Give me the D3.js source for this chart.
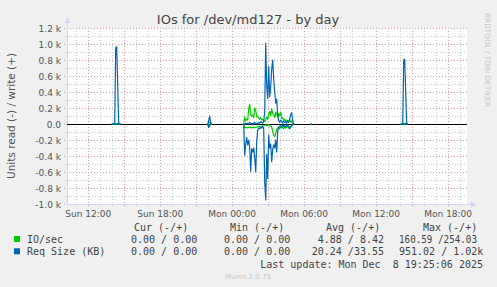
<!DOCTYPE html>
<html><head><meta charset="utf-8">
<script src="https://cdn.jsdelivr.net/npm/d3@7"></script>
<style>
html,body{margin:0;padding:0;background:#f0f0f0;}
svg{display:block;}
text{font-family:"DejaVu Sans",sans-serif;}
.mono{font-family:"DejaVu Sans Mono",monospace;font-size:10px;fill:#444;white-space:pre;}
</style></head><body>
<svg id="chart" width="497" height="287"></svg>
<script>
// ---- data (5-minute samples, each segment starts at segStarts[i]) ----
const segStarts = ["2025-12-07T13:55", "2025-12-07T21:55", "2025-12-08T00:55", "2025-12-08T06:30", "2025-12-08T14:00"];
const ioWrite = [
  [0,0,0,2,5,3,8,12,0,0],
  [0,15,20,5,0],
  [0,90,40,60,50,190,250,110,100,110,80,200,170,90,100,70,60,80,50,60,40,30,50,90,60,120,160,100,190,130,120,80,150,110,90,130,100,150,70,80,50,60,30,50,40,30,60,20,40,10,0],
  [0,0],
  [0,0,0,2,4,6,10,0]
];
const ioRead = [
  [0,0,0,0,0,0,0,0,0,0],
  [0,-25,-10,0,0],
  [0,-50,-40,-45,-50,-40,-45,-40,-50,-45,-40,-45,-40,-35,-40,-30,-35,-30,-25,-30,-20,-15,-10,-20,-15,-10,-20,-25,-40,-90,-140,-160,-120,-70,-50,-40,-60,-30,-50,-40,-60,-30,-50,-40,-30,-50,-40,-30,-20,-10,0],
  [0,0],
  [0,0,0,0,0,0,0,0]
];
const sizeWrite = [
  [0,0,0,0,955,965,480,0,0,0],
  [0,40,100,10,0],
  [0,0,10,0,10,0,20,10,0,10,0,20,10,0,10,20,10,30,20,10,30,150,1010,480,320,720,340,460,690,800,560,400,260,310,110,40,20,50,30,10,40,20,30,10,40,20,60,120,140,40,0],
  [0,0],
  [0,0,0,800,810,400,0,0]
];
const sizeRead = [
  [0,0,0,0,0,0,0,0,0,0],
  [0,-45,-20,0,0],
  [-20,-390,-250,-170,-260,-200,-300,-590,-310,-350,-300,-420,-600,-220,-80,-50,-60,-40,-50,-30,-60,-720,-950,-380,-680,-140,-300,-250,-470,-320,-260,-300,-200,-350,-90,-40,-30,-20,-40,-10,-30,-20,-40,-10,-30,-20,-60,-40,-20,-10,0],
  [0,0],
  [0,0,0,0,0,0,0,0]
];
const yTicks = [1200,1000,800,600,400,200,0,-200,-400,-600,-800,-1000];
const yTickLabels = ["1.2 k","1.0 k","0.8 k","0.6 k","0.4 k","0.2 k","0.0","-0.2 k","-0.4 k","-0.6 k","-0.8 k","-1.0 k"];
const xTickTimes = ["2025-12-07T12:00","2025-12-07T18:00","2025-12-08T00:00","2025-12-08T06:00","2025-12-08T12:00","2025-12-08T18:00"];
const xTickLabels = ["Sun 12:00","Sun 18:00","Mon 00:00","Mon 06:00","Mon 12:00","Mon 18:00"];
const legendNames = ["IO/sec","Req Size (KB)"];
const legendColors = ["#00cc00","#0066b3"];
const colHeaders = ["Cur (-/+)","Min (-/+)","Avg (-/+)","Max (-/+)"];
const curVals = ["0.00 / 0.00","0.00 / 0.00"];
const minVals = ["0.00 / 0.00","0.00 / 0.00"];
const avgVals = ["4.88 / 8.42","20.24 /33.55"];
const maxVals = ["160.59 /254.03","951.02 / 1.02k"];

// ---- layout ----
const parse = d3.utcParse("%Y-%m-%dT%H:%M");
const L=67, R=467, T=28, B=204;
const t0 = parse("2025-12-07T10:14");
const t1 = new Date(t0.getTime() + 400*300000);
const x = d3.scaleUtc().domain([t0,t1]).range([L,R]);
const y = d3.scaleLinear().domain([-1000,1200]).range([B,T]);
const svg = d3.select("#chart");

svg.append("rect").attr("x",L).attr("y",T).attr("width",R-L).attr("height",B-T).attr("fill","#fff");

// minor grid
const hours = d3.utcHour.range(t0, t1);
svg.append("g").selectAll("line").data(hours.filter(h=>h.getUTCHours()%3!==0)).join("line")
  .attr("x1",d=>Math.round(x(d))+0.5).attr("x2",d=>Math.round(x(d))+0.5).attr("y1",T).attr("y2",B+2)
  .attr("stroke","#cccccc").attr("stroke-width",1).attr("stroke-dasharray","1,2");
const minorY = d3.range(-1000,1201,100).filter(v=>v%200!==0);
svg.append("g").selectAll("line").data(minorY).join("line")
  .attr("x1",L-2).attr("x2",R).attr("y1",d=>Math.round(y(d))+0.5).attr("y2",d=>Math.round(y(d))+0.5)
  .attr("stroke","#cccccc").attr("stroke-dasharray","1,2");
// major grid
svg.append("g").selectAll("line").data(hours.filter(h=>h.getUTCHours()%3===0)).join("line")
  .attr("x1",d=>Math.round(x(d))+0.5).attr("x2",d=>Math.round(x(d))+0.5).attr("y1",T).attr("y2",B+3)
  .attr("stroke","#e89a9a").attr("stroke-dasharray","1,2");
svg.append("g").selectAll("line").data(yTicks).join("line")
  .attr("x1",L-3).attr("x2",R).attr("y1",d=>Math.round(y(d))+0.5).attr("y2",d=>Math.round(y(d))+0.5)
  .attr("stroke","#e89a9a").attr("stroke-dasharray","1,2");

// axes
svg.append("line").attr("x1",L+0.5).attr("x2",L+0.5).attr("y1",B).attr("y2",T-8).attr("stroke","#cfd6f8");
svg.append("path").attr("d",`M${L-2.5},${T-5}L${L+3.5},${T-5}L${L+0.5},${T-10}Z`).attr("fill","#cfd6f8");
svg.append("line").attr("x1",L).attr("x2",R+6).attr("y1",B+0.5).attr("y2",B+0.5).attr("stroke","#cfd6f8");
svg.append("path").attr("d",`M${R+4},${B-2.5}L${R+4},${B+3.5}L${R+9},${B+0.5}Z`).attr("fill","#cfd6f8");

// zero line
svg.append("line").attr("x1",L).attr("x2",R).attr("y1",y(0)+0.5).attr("y2",y(0)+0.5).attr("stroke","#000");

// y labels
svg.append("g").selectAll("text").data(yTicks).join("text")
  .attr("x",L-6).attr("y",d=>y(d)+3.5).attr("text-anchor","end")
  .attr("font-size","9px").attr("fill","#555").text((d,i)=>yTickLabels[i]);
// x labels
svg.append("g").selectAll("text").data(xTickTimes).join("text")
  .attr("x",d=>x(parse(d))).attr("y",217).attr("text-anchor","middle")
  .attr("font-size","9px").attr("fill","#555").text((d,i)=>xTickLabels[i]);

// title & axis title
svg.append("text").attr("x",248).attr("y",24).attr("text-anchor","middle").attr("font-size","13px").attr("fill","#444").text("IOs for /dev/md127 - by day");
svg.append("text").attr("transform","translate(15,116) rotate(-90)").attr("text-anchor","middle").attr("font-size","10.5px").attr("fill","#555").text("Units read (-) / write (+)");
svg.append("text").attr("transform","translate(485,13) rotate(90)").attr("text-anchor","start").attr("font-size","7.3px").attr("fill","#c8c8c8").text("RRDTOOL / TOBI OETIKER");

// data lines
const line = d3.line().x(d=>x(d[0])+0.5).y(d=>y(d[1]));
function draw(segs,color){
  segs.forEach((vals,i)=>{
    const s = parse(segStarts[i]);
    const pts = vals.map((v,k)=>[new Date(s.getTime()+k*300000), v]);
    svg.append("path").attr("d",line(pts)).attr("fill","none").attr("stroke",color).attr("stroke-width",1.2).attr("stroke-linejoin","round");
  });
}
draw(ioRead,legendColors[0]);
draw(ioWrite,legendColors[0]);
draw(sizeRead,legendColors[1]);
draw(sizeWrite,legendColors[1]);

// legend
const colX = [134,230,326,423];
svg.append("g").selectAll("text").data(colHeaders).join("text").attr("class","mono")
  .attr("x",(d,i)=>colX[i]).attr("y",231).text(d=>d);
legendNames.forEach((n,i)=>{
  const yy = 243 + i*12.3;
  svg.append("rect").attr("x",14).attr("y",yy-7).attr("width",6).attr("height",6).attr("fill",legendColors[i]);
  svg.append("text").attr("class","mono").attr("x",27).attr("y",yy).text(n);
  svg.append("text").attr("class","mono").attr("x",131).attr("y",yy).text(curVals[i]);
  svg.append("text").attr("class","mono").attr("x",224).attr("y",yy).text(minVals[i]);
  svg.append("text").attr("class","mono").attr("x",384).attr("y",yy).attr("text-anchor","end").text(avgVals[i]);
  const mt = svg.append("text").attr("class","mono").attr("x",399).attr("y",yy).text(maxVals[i]);
  if (i===0) mt.attr("textLength",78).attr("lengthAdjust","spacingAndGlyphs");
});
svg.append("text").attr("class","mono").attr("x",483).attr("y",267.5).attr("text-anchor","end").text("Last update: Mon Dec  8 19:25:06 2025");
svg.append("text").attr("x",248).attr("y",279).attr("text-anchor","middle").attr("font-size","7px").attr("fill","#c8c8c8").text("Munin 2.0.75");
</script>
</body></html>
